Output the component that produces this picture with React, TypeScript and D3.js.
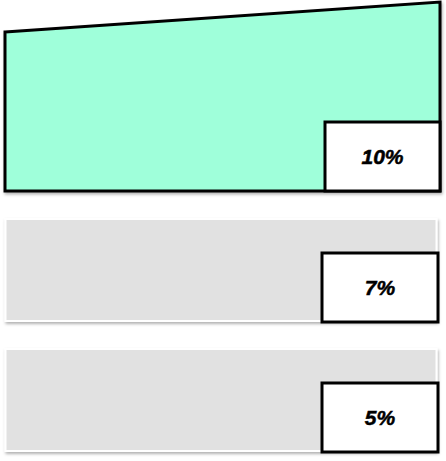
import React from "react";
import * as d3 from "d3";

const categories = ["first", "second", "third"];
const values = [10, 7, 5];
const labels = ["10%", "7%", "5%"];
const highlighted = [true, false, false];

const W = 446;
const H = 461;

// panel heights (layout): highlighted panel is taller
const panelHeights = [189, 102, 102];
const GAP = 28;

export default function App() {
  const tops: number[] = [];
  let acc = 2;
  panelHeights.forEach((h) => {
    tops.push(acc);
    acc += h + GAP;
  });
  const y = d3.scaleOrdinal<string, number>().domain(categories).range(tops);
  const xLeft = 5;
  const xRight = 440;
  const slope = d3.scaleLinear().domain([0, d3.max(values) as number]).range([0, 30]);
  const font = "'Liberation Sans', Arial, sans-serif";
  const textProps = {
    textAnchor: "middle" as const,
    fontFamily: font,
    fontWeight: "bold",
    fontStyle: "italic",
    fontSize: 21,
    fill: "#000",
    stroke: "#000",
    strokeWidth: 0.5,
  };

  return (
    <svg
      width={W}
      height={H}
      style={{ position: "absolute", left: 0, top: 0, display: "block", background: "#fff" }}
    >
      <defs>
        <filter id="shadow" x="-5%" y="-5%" width="110%" height="120%">
          <feDropShadow dx="1" dy="2" stdDeviation="1.5" floodColor="#000" floodOpacity="0.3" />
        </filter>
      </defs>
      {categories.map((c, i) => {
        const top = y(c);
        const bottom = top + panelHeights[i];
        const boxH = 69;
        if (highlighted[i]) {
          const boxW = 115;
          const rise = slope(values[i]);
          const pts = [
            [xLeft, top + rise],
            [xRight, top],
            [xRight, bottom],
            [xLeft, bottom],
          ];
          return (
            <g key={c}>
              <path
                d={"M" + pts.map((p) => p.join(",")).join("L") + "Z"}
                fill="#9fffda"
                stroke="#000"
                strokeWidth={3}
                strokeLinejoin="miter"
                filter="url(#shadow)"
              />
              <rect
                x={xRight - boxW}
                y={bottom - boxH}
                width={boxW}
                height={boxH}
                fill="#fff"
                stroke="#000"
                strokeWidth={3}
              />
              <text x={xRight - boxW / 2} y={bottom - boxH / 2 + 7.5} {...textProps}>
                {labels[i]}
              </text>
            </g>
          );
        }
        const bx = 322;
        const bRight = 438;
        return (
          <g key={c}>
            <rect
              x={5.5}
              y={top}
              width={431}
              height={panelHeights[i]}
              fill="#e1e1e1"
              stroke="#fff"
              strokeWidth={2}
              filter="url(#shadow)"
            />
            <rect
              x={bx}
              y={bottom - boxH + 1}
              width={bRight - bx}
              height={boxH}
              fill="#fff"
              stroke="#000"
              strokeWidth={3}
            />
            <text x={(bx + bRight) / 2} y={bottom - boxH / 2 + 8} {...textProps}>
              {labels[i]}
            </text>
          </g>
        );
      })}
    </svg>
  );
}
